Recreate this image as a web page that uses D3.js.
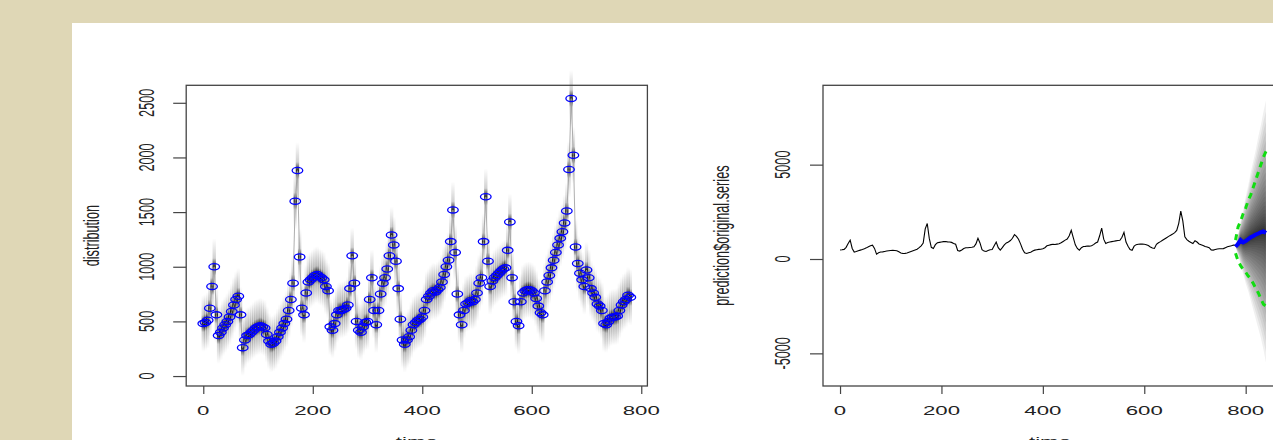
<html>
<head>
  <script src="https://d3js.org/d3.v7.min.js"></script>
  <style>
    body { margin: 0; background: #dfd7b6; }
    text { font-family: "Liberation Sans", Arial, sans-serif; fill: #222; }
  </style>
</head>
<body>
<script>
    // observed series, one value every 4 time steps (t = 0 .. 780)
    var step = 4;
    var series = [
        480, 490, 510, 620, 820, 1000, 560, 370, 400, 440, 470, 500, 540, 590, 650, 700, 730, 560, 260, 330,
        370, 380, 400, 420, 440, 450, 460, 450, 440, 380, 320, 290, 300, 320, 360, 400, 440, 480, 520, 600,
        700, 850, 1600, 1880, 1090, 620, 560, 760, 860, 880, 900, 920, 930, 910, 900, 880, 820, 780, 450, 420,
        480, 560, 600, 600, 610, 620, 650, 800, 1100, 850, 500, 420, 400, 450, 490, 500, 700, 900, 600, 470,
        600, 750, 850, 900, 980, 1100, 1290, 1200, 1050, 800, 520, 330, 290, 330, 360, 420, 470, 490, 510, 520,
        540, 600, 700, 730, 760, 780, 770, 790, 810, 860, 930, 1000, 1060, 1230, 1520, 1130, 750, 560, 470, 600,
        660, 670, 690, 680, 700, 760, 850, 900, 1230, 1640, 1050, 820, 870, 900, 920, 940, 960, 980, 990, 1150,
        1410, 900, 680, 500, 460, 680, 760, 780, 790, 790, 780, 760, 710, 640, 580, 560, 780, 860, 920, 990,
        1060, 1130, 1200, 1260, 1320, 1400, 1510, 1890, 2540, 2020, 1180, 1030, 940, 880, 820, 970, 900, 800, 760, 720,
        660, 640, 600, 480, 470, 500, 530, 540, 540, 550, 600, 650, 680, 700, 740, 720
    ];

    // forecast (t = 780 .. 840, every 5)
    var fcStep = 5, fcStart = 780;
    var fcMean  = [650, 800, 1000, 880, 950, 1050, 1150, 1220, 1300, 1350, 1420, 1460, 1380];
    var fcUpper = [1000, 1700, 2000, 2400, 2700, 3100, 3400, 3800, 4200, 4600, 5000, 5400, 5700];
    var fcLower = [300, -100, -350, -550, -700, -900, -1050, -1300, -1550, -1800, -2100, -2400, -2500];
    var fanTop  = [650, 1300, 2000, 2600, 3300, 3900, 4600, 5200, 5800, 6500, 7100, 7800, 8400];
    var fanBot  = [650, 200, -300, -800, -1300, -1700, -2200, -2700, -3200, -3700, -4200, -4800, -5500];

    var xTicks = [0, 200, 400, 600, 800];
    var yTicksLeft = [0, 500, 1000, 1500, 2000, 2500];
    var yTicksRight = [-5000, 0, 5000];

    var data = series.map(function (v, i) { return {t: i * step, v: v}; });
    var fc = fcMean.map(function (v, i) {
        return {t: fcStart + i * fcStep, v: v, up: fcUpper[i], lo: fcLower[i], top: fanTop[i], bot: fanBot[i]};
    });

    var width = 1273, height = 440, sx = 1.75;

    var svg = d3.select("body").append("svg")
        .attr("width", width)
        .attr("height", height);

    svg.append("rect").attr("x", 72).attr("y", 23)
        .attr("width", width - 72).attr("height", height - 23).attr("fill", "#fff");

    var defs = svg.append("defs");
    var grad = defs.append("linearGradient").attr("id", "smudge")
        .attr("x1", 0).attr("y1", 0).attr("x2", 0).attr("y2", 1);
    grad.append("stop").attr("offset", "0%").attr("stop-color", "#000").attr("stop-opacity", 0);
    grad.append("stop").attr("offset", "35%").attr("stop-color", "#000").attr("stop-opacity", 0.18);
    grad.append("stop").attr("offset", "50%").attr("stop-color", "#000").attr("stop-opacity", 0.85);
    grad.append("stop").attr("offset", "65%").attr("stop-color", "#000").attr("stop-opacity", 0.18);
    grad.append("stop").attr("offset", "100%").attr("stop-color", "#000").attr("stop-opacity", 0);

    // stretched text like the reference
    function label(x, y, txt, rotated, size) {
        var g = svg.append("g").attr("transform", "translate(" + x + "," + y + ") scale(" + sx + ",1)");
        g.append("text")
            .attr("text-anchor", "middle")
            .attr("transform", rotated ? "rotate(-90)" : null)
            .style("font-size", (size || 12.7) + "px")
            .text(txt);
    }

    function frame(x, y, xLeft, xRight) {
        svg.append("rect")
            .attr("x", xLeft).attr("y", y.range()[1])
            .attr("width", xRight - xLeft).attr("height", y.range()[0] - y.range()[1])
            .attr("fill", "none").attr("stroke", "#444").attr("stroke-width", 1.3);
    }

    function axes(x, y, yTicks, xLeft, yLabelX) {
        var gx = svg.append("g").attr("transform", "translate(0," + y.range()[0] + ")")
            .call(d3.axisBottom(x).tickValues(xTicks).tickSize(8).tickFormat(""));
        var gy = svg.append("g").attr("transform", "translate(" + xLeft + ",0)")
            .call(d3.axisLeft(y).tickValues(yTicks).tickSize(13).tickFormat(""));
        [gx, gy].forEach(function (g) {
            g.select(".domain").remove();
            g.selectAll("line").attr("stroke", "#444").attr("stroke-width", 1.2);
        });
        xTicks.forEach(function (t) { label(x(t), 415, t); });
        yTicks.forEach(function (t) { label(yLabelX, y(t), t, true); });
    }

    // ---- left panel: filtering distribution + observations
    var x1 = d3.scaleLinear().domain([-31.2, 811.2]).range([186.2, 647.4]);
    var y1 = d3.scaleLinear().domain([-91, 2660]).range([386, 85.3]);

    svg.append("g").selectAll("rect")
        .data(data)
        .enter()
        .append("rect")
        .attr("x", function (d) { return x1(d.t) - 1.7; })
        .attr("width", 3.4)
        .attr("y", function (d) { return y1(d.v + 260); })
        .attr("height", function (d) { return y1(d.v - 260) - y1(d.v + 260); })
        .attr("fill", "url(#smudge)");

    svg.append("path")
        .datum(data)
        .attr("fill", "none")
        .attr("stroke", "#999")
        .attr("stroke-width", 0.8)
        .attr("d", d3.line().x(function (d) { return x1(d.t); }).y(function (d) { return y1(d.v); }));

    svg.append("g").selectAll("ellipse")
        .data(data)
        .enter()
        .append("ellipse")
        .attr("cx", function (d) { return x1(d.t); })
        .attr("cy", function (d) { return y1(d.v); })
        .attr("rx", 5.3)
        .attr("ry", 3.1)
        .attr("fill", "none")
        .attr("stroke", "#0000ff")
        .attr("stroke-width", 1.3);

    frame(x1, y1, x1.range()[0], x1.range()[1]);
    axes(x1, y1, yTicksLeft, x1.range()[0], 153.5);
    label(99, (y1.range()[0] + y1.range()[1]) / 2, "distribution", true);
    label((x1.range()[0] + x1.range()[1]) / 2, 446, "time");

    // ---- right panel: series + forecast fan
    var x2 = d3.scaleLinear().domain([-33.6, 873.6]).range([823, 1283]);
    var y2 = d3.scaleLinear().domain([-6730, 9205]).range([386, 85.3]);

    var nLev = 30;
    var levels = d3.range(1, nLev + 1);
    svg.append("g").selectAll("path")
        .data(levels)
        .enter()
        .append("path")
        .attr("fill", "#000")
        .attr("fill-opacity", 0.06)
        .attr("d", function (k) {
            var f = Math.pow(k / nLev, 2.5);
            return d3.area()
                .x(function (d) { return x2(d.t); })
                .y0(function (d) { return y2(d.v + f * (d.bot - d.v)); })
                .y1(function (d) { return y2(d.v + f * (d.top - d.v)); })(fc);
        });

    svg.append("path")
        .datum(data)
        .attr("fill", "none")
        .attr("stroke", "#000")
        .attr("stroke-width", 1.1)
        .attr("d", d3.line().x(function (d) { return x2(d.t); }).y(function (d) { return y2(d.v); }));

    ["up", "lo"].forEach(function (k) {
        svg.append("path")
            .datum(fc)
            .attr("fill", "none")
            .attr("stroke", "#11dd11")
            .attr("stroke-width", 3)
            .attr("stroke-dasharray", "6,5")
            .attr("d", d3.line().x(function (d) { return x2(d.t); }).y(function (d) { return y2(d[k]); }));
    });

    svg.append("path")
        .datum(fc)
        .attr("fill", "none")
        .attr("stroke", "#0000ff")
        .attr("stroke-width", 4)
        .attr("d", d3.line().x(function (d) { return x2(d.t); }).y(function (d) { return y2(d.v); }));

    frame(x2, y2, x2.range()[0], x2.range()[1]);
    axes(x2, y2, yTicksRight, x2.range()[0], 790);
    label(729, (y2.range()[0] + y2.range()[1]) / 2, "prediction$original.series", true);
    label(1050, 446, "time");
</script>
</body>
</html>
